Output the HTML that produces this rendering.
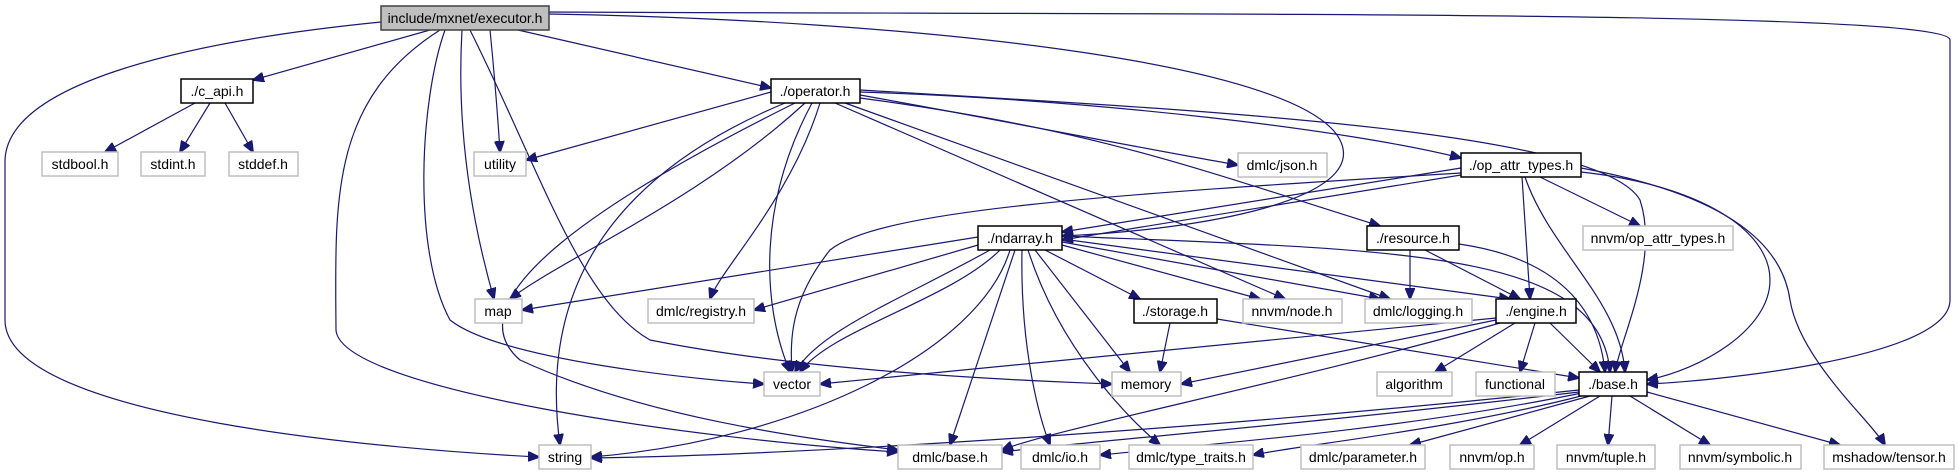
<!DOCTYPE html>
<html><head><meta charset="utf-8"><style>
html,body{margin:0;padding:0;background:#fff;}
svg{display:block;}
text{font-family:"Liberation Sans",Arial,sans-serif;font-size:14px;fill:#000;}
.ext{fill:#fff;stroke:#bfbfbf;stroke-width:1.5;}
.int{fill:#fff;stroke:#000;stroke-width:1.5;}
.root{fill:#bfbfbf;stroke:#404040;stroke-width:1.5;}
path{fill:none;stroke:#191970;stroke-width:1.2;marker-end:url(#a);}
</style></head><body>
<svg width="1959" height="476" viewBox="0 0 1959 476" xmlns="http://www.w3.org/2000/svg">
<defs><marker id="a" markerUnits="userSpaceOnUse" markerWidth="12" markerHeight="10" refX="11" refY="5" orient="auto"><polygon points="0,0 12,5 0,10" fill="#191970" stroke="#191970"/></marker></defs>
<!-- executor edges -->
<path d="M381,22 C200,40 8,80 5,160 L5,320 C5,420 400,450 539,457"/>
<path d="M430,30 L253,80"/>
<path d="M518,30 L771,88"/>
<path d="M490,30 C495,80 498,120 500,152"/>
<path d="M462,30 C455,150 480,250 494,299"/>
<path d="M445,30 C420,100 412,250 450,320 C500,360 700,380 764,384"/>
<path d="M440,30 C330,100 335,200 336,330 C340,390 700,440 898,452"/>
<path d="M470,30 C540,170 580,300 650,340 C800,370 1000,380 1112,384"/>
<path d="M549,14 C900,20 1300,60 1340,140 C1370,200 1200,230 1062,236"/>
<path d="M549,12 C1200,15 1950,10 1950,40 L1950,300 C1950,360 1700,382 1647,384"/>
<!-- c_api -->
<path d="M195,103 L105,152"/>
<path d="M210,103 L180,152"/>
<path d="M225,103 L253,152"/>
<!-- operator -->
<path d="M771,92 L526,160"/>
<path d="M785,103 C600,180 540,300 560,445"/>
<path d="M795,103 C600,200 450,300 520,360 C650,420 820,440 898,450"/>
<path d="M805,103 C700,200 560,260 510,299"/>
<path d="M812,103 C760,200 760,300 790,372"/>
<path d="M820,103 C790,200 720,270 710,299"/>
<path d="M835,103 L1285,299"/>
<path d="M845,103 L1390,299"/>
<path d="M860,95 C1000,120 1150,150 1238,165"/>
<path d="M860,98 C1100,130 1200,170 1380,226"/>
<path d="M860,92 C1100,100 1350,130 1461,158"/>
<path d="M860,90 C1200,110 1600,130 1640,200 C1660,260 1620,340 1615,372"/>
<!-- op_attr_types -->
<path d="M1461,173 C1100,195 880,210 830,250 C790,300 790,340 792,372"/>
<path d="M1461,168 L1062,232"/>
<path d="M1461,175 L1062,240"/>
<path d="M1522,177 L1530,299"/>
<path d="M1525,177 C1550,250 1620,300 1625,372"/>
<path d="M1581,172 C1700,185 1770,230 1770,280 C1770,330 1700,370 1647,380"/>
<path d="M1540,177 L1640,226"/>
<path d="M1581,168 C1700,190 1780,230 1790,300 C1800,360 1870,420 1885,445"/>
<!-- ndarray -->
<path d="M978,237 L522,310"/>
<path d="M985,243 L754,310"/>
<path d="M990,250 C900,300 820,330 795,372"/>
<path d="M1000,250 C950,300 830,330 800,372"/>
<path d="M1010,250 C980,350 800,440 591,457"/>
<path d="M1015,250 L950,445"/>
<path d="M1022,250 C1020,350 1040,420 1050,445"/>
<path d="M1028,250 C1060,350 1130,420 1160,445"/>
<path d="M1035,250 L1130,372"/>
<path d="M1045,250 L1140,299"/>
<path d="M1062,245 L1260,299"/>
<path d="M1062,242 L1380,299"/>
<path d="M1062,239 L1510,299"/>
<path d="M1062,236 C1400,250 1600,250 1610,372"/>
<!-- resource -->
<path d="M1410,250 L1410,299"/>
<path d="M1425,250 L1520,299"/>
<path d="M1459,244 C1570,260 1600,320 1605,372"/>
<!-- storage -->
<path d="M1170,323 L1160,372"/>
<path d="M1217,319 L1579,378"/>
<!-- engine -->
<path d="M1496,318 L820,384"/>
<path d="M1496,320 L1181,384"/>
<path d="M1500,323 C1300,380 1050,430 1002,450"/>
<path d="M1515,323 L1435,372"/>
<path d="M1535,323 L1520,372"/>
<path d="M1550,323 L1600,372"/>
<!-- base -->
<path d="M1579,390 C1200,430 800,455 591,458"/>
<path d="M1579,392 C1300,425 1100,440 1002,452"/>
<path d="M1582,393 C1400,430 1200,445 1100,455"/>
<path d="M1585,395 C1450,430 1300,445 1253,455"/>
<path d="M1590,396 L1410,445"/>
<path d="M1600,396 L1520,445"/>
<path d="M1612,396 L1608,445"/>
<path d="M1630,396 L1710,445"/>
<path d="M1647,392 L1840,445"/>

<!-- nodes -->
<rect class="root" x="381" y="6" width="168" height="24"/><text x="465" y="23" text-anchor="middle">include/mxnet/executor.h</text>
<rect class="int" x="181" y="79" width="72" height="24"/><text x="217" y="96" text-anchor="middle">./c_api.h</text>
<rect class="int" x="771" y="79" width="89" height="24"/><text x="815" y="96" text-anchor="middle">./operator.h</text>
<rect class="ext" x="42" y="152" width="76" height="24"/><text x="80" y="169" text-anchor="middle">stdbool.h</text>
<rect class="ext" x="141" y="152" width="64" height="24"/><text x="173" y="169" text-anchor="middle">stdint.h</text>
<rect class="ext" x="229" y="152" width="69" height="24"/><text x="263" y="169" text-anchor="middle">stddef.h</text>
<rect class="ext" x="474" y="152" width="52" height="24"/><text x="500" y="169" text-anchor="middle">utility</text>
<rect class="ext" x="1238" y="153" width="89" height="24"/><text x="1282" y="170" text-anchor="middle">dmlc/json.h</text>
<rect class="int" x="1461" y="153" width="120" height="24"/><text x="1521" y="170" text-anchor="middle">./op_attr_types.h</text>
<rect class="int" x="978" y="226" width="84" height="24"/><text x="1020" y="243" text-anchor="middle">./ndarray.h</text>
<rect class="int" x="1367" y="226" width="92" height="24"/><text x="1413" y="243" text-anchor="middle">./resource.h</text>
<rect class="ext" x="1583" y="226" width="150" height="24"/><text x="1658" y="243" text-anchor="middle">nnvm/op_attr_types.h</text>
<rect class="ext" x="475" y="299" width="47" height="24"/><text x="498" y="316" text-anchor="middle">map</text>
<rect class="ext" x="648" y="299" width="106" height="24"/><text x="701" y="316" text-anchor="middle">dmlc/registry.h</text>
<rect class="int" x="1134" y="299" width="83" height="24"/><text x="1175" y="316" text-anchor="middle">./storage.h</text>
<rect class="ext" x="1243" y="299" width="99" height="24"/><text x="1292" y="316" text-anchor="middle">nnvm/node.h</text>
<rect class="ext" x="1365" y="299" width="107" height="24"/><text x="1418" y="316" text-anchor="middle">dmlc/logging.h</text>
<rect class="int" x="1496" y="299" width="80" height="24"/><text x="1536" y="316" text-anchor="middle">./engine.h</text>
<rect class="ext" x="764" y="372" width="56" height="24"/><text x="792" y="389" text-anchor="middle">vector</text>
<rect class="ext" x="1112" y="372" width="69" height="24"/><text x="1146" y="389" text-anchor="middle">memory</text>
<rect class="ext" x="1377" y="372" width="75" height="24"/><text x="1414" y="389" text-anchor="middle">algorithm</text>
<rect class="ext" x="1476" y="372" width="79" height="24"/><text x="1515" y="389" text-anchor="middle">functional</text>
<rect class="int" x="1579" y="372" width="68" height="24"/><text x="1613" y="389" text-anchor="middle">./base.h</text>
<rect class="ext" x="539" y="445" width="52" height="24"/><text x="565" y="462" text-anchor="middle">string</text>
<rect class="ext" x="898" y="445" width="104" height="24"/><text x="950" y="462" text-anchor="middle">dmlc/base.h</text>
<rect class="ext" x="1021" y="445" width="79" height="24"/><text x="1060" y="462" text-anchor="middle">dmlc/io.h</text>
<rect class="ext" x="1129" y="445" width="124" height="24"/><text x="1191" y="462" text-anchor="middle">dmlc/type_traits.h</text>
<rect class="ext" x="1301" y="445" width="124" height="24"/><text x="1363" y="462" text-anchor="middle">dmlc/parameter.h</text>
<rect class="ext" x="1450" y="445" width="84" height="24"/><text x="1492" y="462" text-anchor="middle">nnvm/op.h</text>
<rect class="ext" x="1557" y="445" width="98" height="24"/><text x="1606" y="462" text-anchor="middle">nnvm/tuple.h</text>
<rect class="ext" x="1680" y="445" width="121" height="24"/><text x="1740" y="462" text-anchor="middle">nnvm/symbolic.h</text>
<rect class="ext" x="1824" y="445" width="130" height="24"/><text x="1889" y="462" text-anchor="middle">mshadow/tensor.h</text>
</svg>
</body></html>
